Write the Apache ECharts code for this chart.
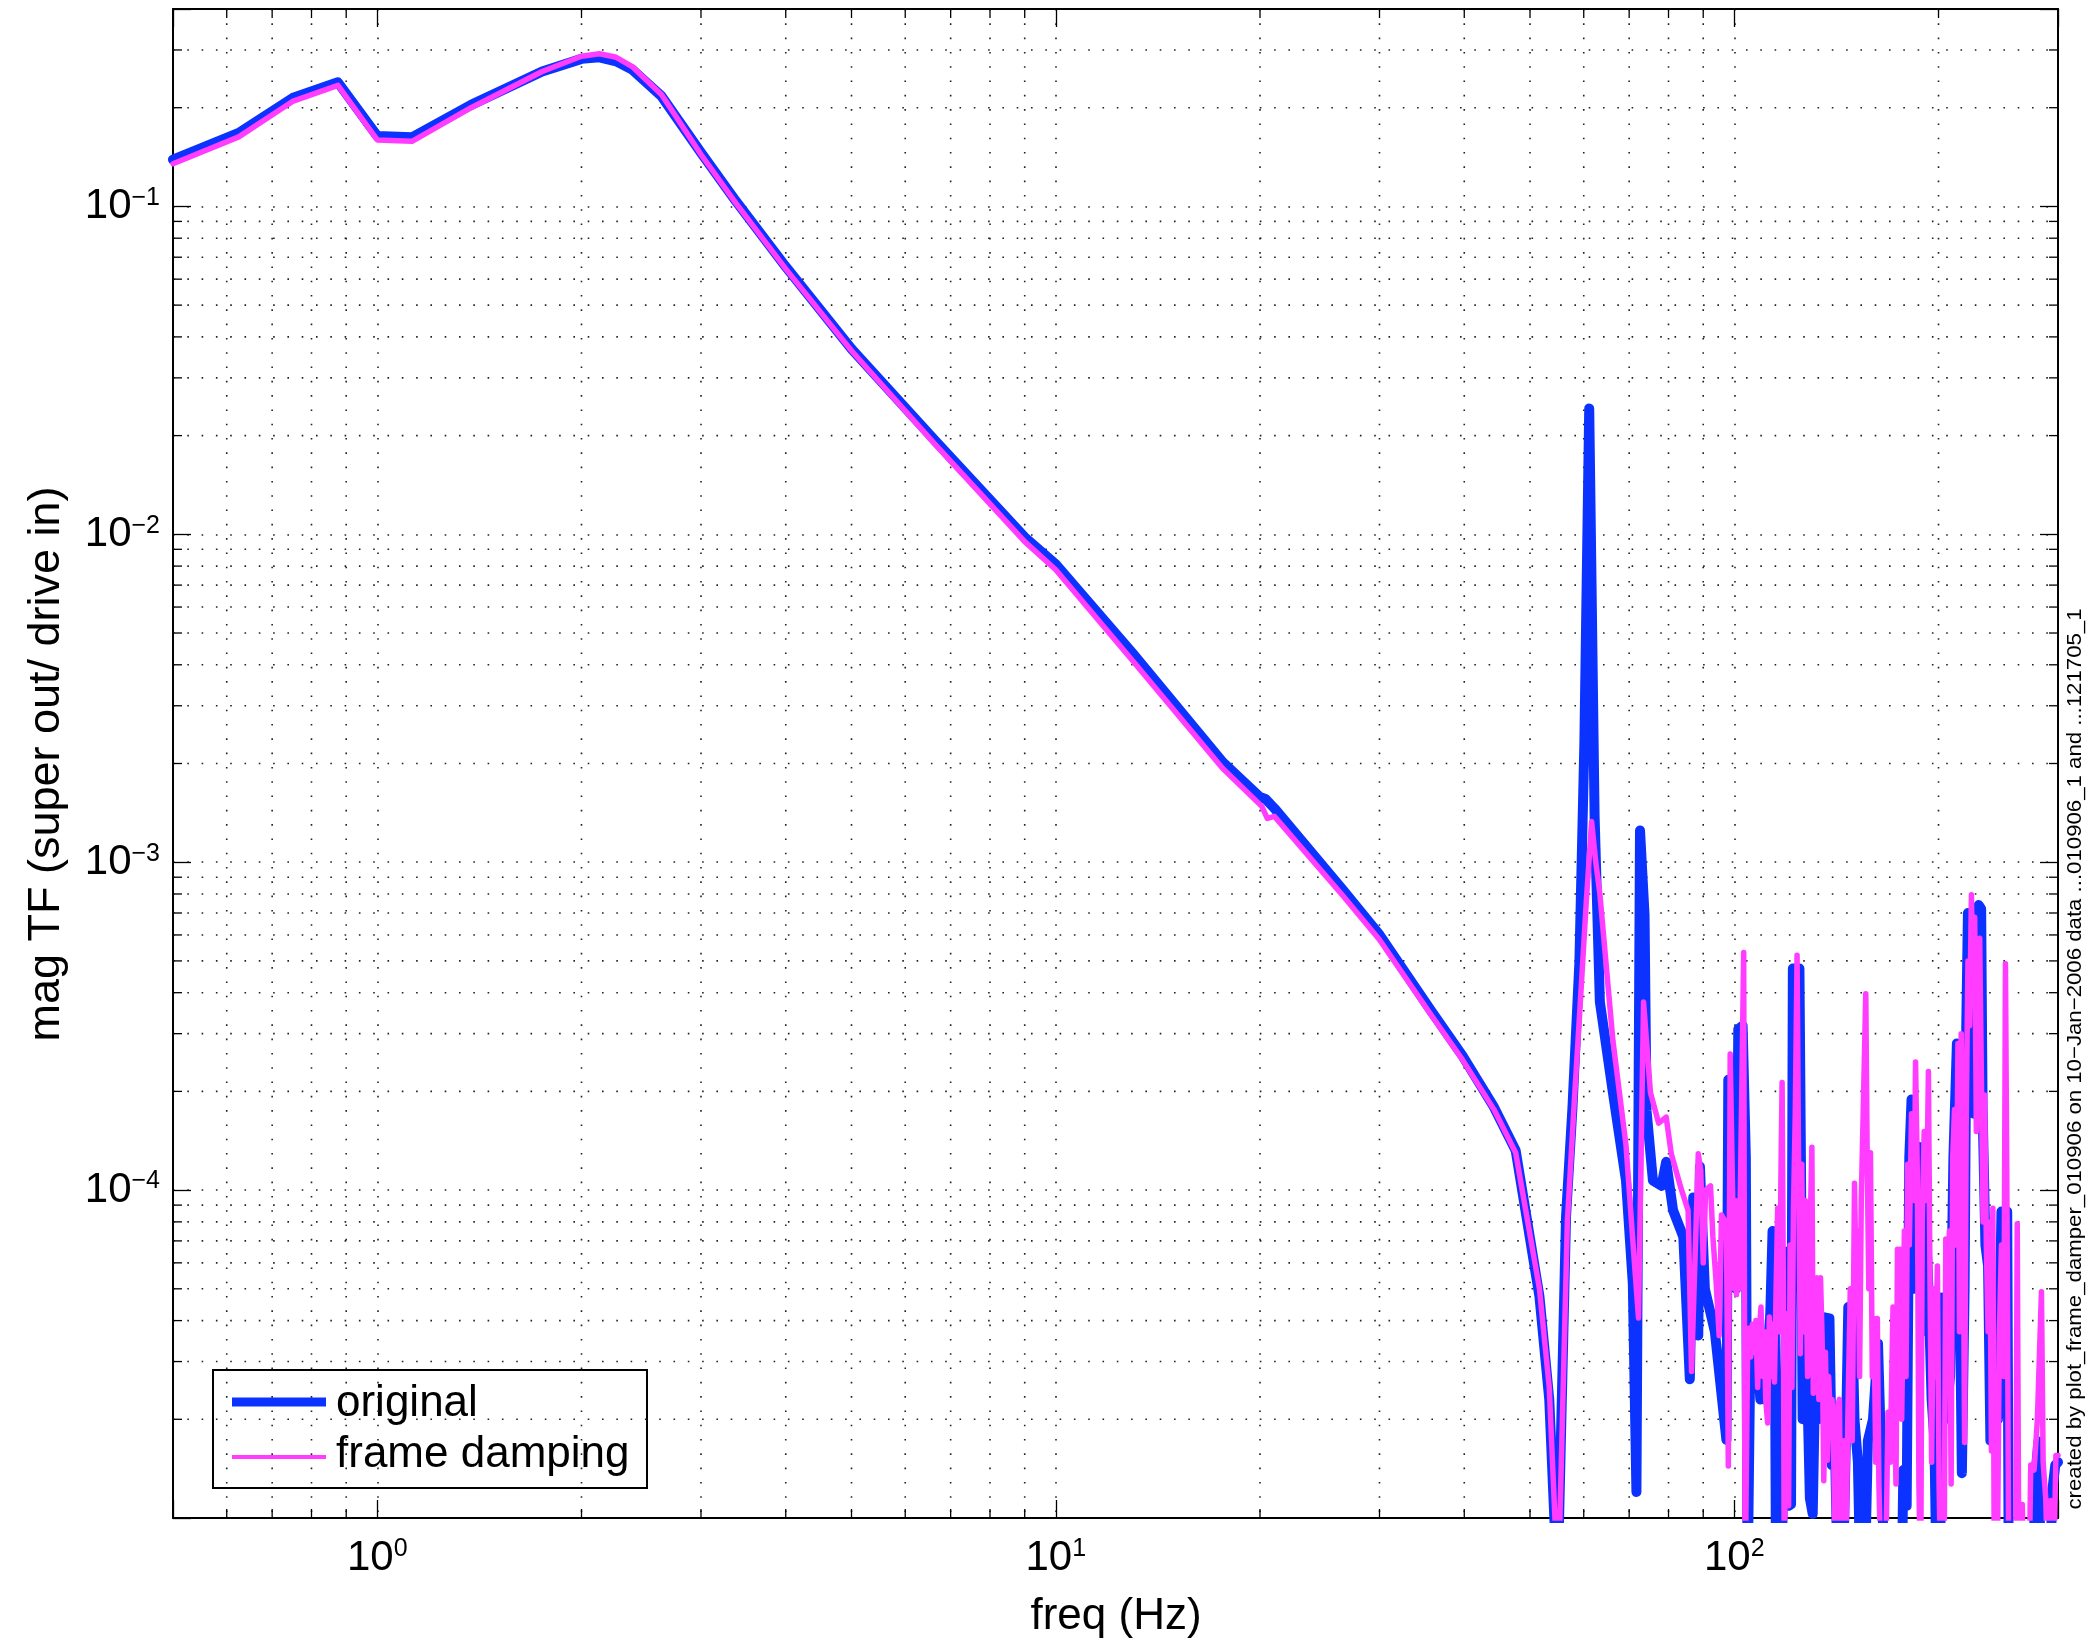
<!DOCTYPE html>
<html>
<head>
<meta charset="utf-8">
<script src="https://cdn.jsdelivr.net/npm/echarts@6.0.0/dist/echarts.min.js"></script>
<style>
html, body { margin: 0; padding: 0; background: #fff; }
#chart { width: 2088px; height: 1645px; }
</style>
</head>
<body>
<div id="chart"></div>
<script>
// transfer function magnitude: [freq Hz, mag]
var original = [
    [0.5, 0.139], [0.625, 0.1675], [0.75, 0.214], [0.875, 0.239], [1, 0.164], [1.125, 0.1624],
    [1.375, 0.204], [1.75, 0.258], [2, 0.2818], [2.125, 0.2848], [2.25, 0.277], [2.375, 0.2615],
    [2.625, 0.2167], [3, 0.146], [3.375, 0.104], [4, 0.0655], [5, 0.0368], [6.625, 0.0194],
    [9, 0.0098], [10, 0.0081], [13, 0.00432], [17.625, 0.00202], [20, 0.00158], [20.375, 0.00156],
    [21, 0.00146], [26.5, 8.23e-4], [30, 6.01e-4], [35.75, 3.52e-4], [39.75, 2.57e-4],
    [44.25, 1.79e-4], [47.625, 1.32e-4], [51.625, 4.74e-5], [53.375, 2.3e-5], [54.875, 6e-6],
    [56.5, 8.3e-5], [57.75, 1.79e-4], [59.125, 4.97e-4], [60.125, 2.3e-3], [61.125, 0.0242],
    [62.25, 1.38e-3], [63.375, 3.75e-4], [66.25, 1.98e-4], [69.25, 1.07e-4], [70.875, 5.18e-5],
    [71.75, 1.2e-5], [72.625, 1.25e-3], [73.75, 6.9e-4], [74.25, 1.75e-4], [75.875, 1.07e-4],
    [78.125, 1.03e-4], [79.375, 1.22e-4], [81.25, 8.67e-5], [84.125, 7.2e-5], [86, 2.65e-5],
    [87, 9.5e-5], [88.5, 3.6e-5], [89, 1.18e-4], [90.5, 5e-5], [93.625, 3.7e-5], [97.375, 1.73e-5],
    [98, 2.17e-4], [99.625, 6.9e-5], [100.625, 5.0e-5], [101.375, 3.1e-4], [102.875, 3.17e-4],
    [104, 1.26e-4], [104.625, 6e-6], [105.5, 2.7e-5], [106.375, 3.1e-5], [107.25, 2.5e-5],
    [108.25, 3.1e-5], [109.25, 2.3e-5], [110.125, 2.9e-5], [111, 2.3e-5], [112, 3.2e-5],
    [113, 4.2e-5], [113.875, 7.5e-5], [114.625, 6.8e-5], [115.25, 6e-6], [117.25, 6e-6],
    [118.5, 2.0e-5], [119.625, 6.5e-5], [120.25, 1.09e-5], [121.25, 1.1e-5], [122, 4.74e-4],
    [124.75, 4.74e-4], [125.375, 1.26e-4], [126.125, 2.0e-5], [127.125, 3.7e-5], [128.25, 2.3e-5],
    [129.25, 1.15e-5], [130.5, 1.03e-5], [131.625, 2.7e-5], [132.75, 2.0e-5], [134, 3.7e-5],
    [135.125, 4.1e-5], [138.125, 4.06e-5], [139.25, 1.45e-5], [140.5, 2.0e-5], [142.125, 6e-6],
    [144.5, 6e-6], [146.25, 2.0e-5], [147.25, 4.4e-5], [149.125, 4.3e-5], [150.375, 2.0e-5],
    [152.125, 1.48e-5], [153.5, 6e-6], [155.625, 6e-6], [157.375, 1.72e-5], [160.125, 2.0e-5],
    [162.875, 3.4e-5], [164.75, 1.48e-5], [166.625, 6e-6], [176.5, 6e-6], [177.5, 1.4e-5],
    [179.5, 1.09e-5], [181.125, 1.26e-4], [182.5, 1.89e-4], [184.25, 5.0e-5], [185.75, 1.36e-4],
    [187.75, 1.35e-4], [189.25, 3.7e-5], [191, 9.3e-5], [193.25, 5.0e-5], [195.375, 2.3e-5],
    [197.25, 1.72e-5], [198.75, 6e-6], [201.125, 6e-6], [202.25, 4.7e-5], [204.5, 2.0e-5],
    [208, 2.7e-5], [210.375, 1.26e-4], [212.875, 2.8e-4], [214.625, 6.8e-5], [216.5, 1.37e-5],
    [218.5, 5.0e-5], [219.75, 3.17e-4], [221, 7.0e-4], [222.75, 4.35e-4], [225.375, 1.71e-4],
    [227.375, 4.35e-4], [229.25, 7.4e-4], [231.125, 7.2e-4], [232.25, 1.8e-4], [234.5, 6.8e-5],
    [236.625, 5.87e-5], [238.5, 1.72e-5], [240.5, 3.17e-5], [242.625, 3.0e-5], [244.75, 2.0e-5],
    [247.625, 8.6e-5], [252.5, 8.6e-5], [253.875, 6e-6], [275, 6e-6], [278.25, 1.4e-5],
    [280.75, 1.71e-5], [283.25, 6e-6], [291.25, 6e-6], [294.5, 1.23e-5], [297.25, 1.45e-5],
    [300, 1.48e-5]
];

var frameDamping = [
    [0.5, 0.135], [0.625, 0.163], [0.75, 0.209], [0.875, 0.234], [1, 0.1595], [1.125, 0.158],
    [1.375, 0.2], [1.75, 0.258], [2, 0.287], [2.125, 0.292], [2.25, 0.285], [2.375, 0.267],
    [2.625, 0.219], [3, 0.144], [3.375, 0.1025], [4, 0.0645], [5, 0.0363], [6.625, 0.0189],
    [9, 0.0095], [10, 0.0078], [13, 0.0041], [17.625, 0.00193], [20.125, 0.00148], [20.5, 0.00136],
    [21, 0.00138], [26.5, 7.9e-4], [30, 5.8e-4], [35.75, 3.42e-4], [39.75, 2.5e-4], [44.25, 1.76e-4],
    [47.625, 1.3e-4], [51.625, 5e-5], [53.375, 2.5e-5], [55, 6e-6], [56.75, 8e-5], [58, 1.75e-4],
    [59.375, 3.9e-4], [60.5, 7.5e-4], [61.625, 1.33e-3], [62.5, 1.0e-3], [63.375, 8.0e-4],
    [66.25, 2.85e-4], [69.25, 1.37e-4], [70.875, 7.0e-5], [72.25, 4.07e-5], [73.5, 3.75e-4],
    [75.25, 1.98e-4], [77.375, 1.6e-4], [79.375, 1.67e-4], [80.75, 1.29e-4], [83.5, 1.01e-4],
    [85.5, 8.67e-5], [86.5, 2.8e-5], [88.5, 1.29e-4], [89.25, 1.15e-4], [90, 6.0e-5],
    [90.75, 1.0e-4], [92.25, 1.03e-4], [93, 7.2e-5], [94, 5.3e-5], [95, 3.6e-5], [95.75, 8.4e-5],
    [97.375, 7.9e-5], [98, 1.44e-5], [98.625, 2.6e-4], [100, 5.0e-5], [100.375, 9.3e-5],
    [100.75, 4.8e-5], [101.125, 8.0e-5], [101.625, 5.0e-5], [102.25, 1.26e-4], [103.25, 5.3e-4],
    [103.75, 6e-6], [104.625, 3.17e-5], [105.25, 3.8e-5], [105.75, 3.1e-5], [106.375, 3.9e-5],
    [107, 3.2e-5], [107.625, 4.0e-5], [108.25, 2.5e-5], [108.75, 3.6e-5], [109.5, 4.4e-5],
    [110.125, 2.7e-5], [110.75, 3.7e-5], [111.25, 2.3e-5], [112, 1.95e-5], [112.625, 4.1e-5],
    [113.25, 2.7e-5], [113.875, 3.9e-5], [114.625, 2.6e-5], [115.25, 5.0e-5], [115.875, 8.8e-5],
    [116.5, 3.7e-5], [117.25, 1.26e-4], [117.625, 2.13e-4], [118.125, 5.0e-5], [118.5, 6e-6],
    [119.25, 3.7e-5], [119.625, 4.2e-5], [120.25, 1.09e-5], [120.875, 6.8e-5], [121.625, 2.5e-5],
    [122.25, 8.8e-5], [123, 1.71e-4], [123.75, 5.2e-4], [124.375, 1.26e-4], [125.125, 3.17e-5],
    [125.75, 1.2e-4], [126.5, 3.7e-5], [127.25, 9.3e-5], [128.25, 2.7e-5], [129.25, 6.8e-5],
    [130.125, 1.35e-4], [130.75, 2.4e-5], [131.625, 5.0e-5], [132.5, 5.4e-5], [133.25, 2.3e-5],
    [134, 5.4e-5], [134.75, 3.5e-5], [135.5, 1.3e-5], [136.25, 3.2e-5], [137.125, 1.5e-5],
    [137.75, 2.7e-5], [138.625, 2.0e-5], [139.375, 2.3e-5], [140.25, 1.4e-5], [141, 6e-6],
    [142.125, 2.2e-5], [142.875, 2.3e-5], [143.75, 6e-6], [144.875, 1.72e-5], [145.875, 6e-6],
    [147, 2.0e-5], [148.25, 5.0e-5], [149.25, 1.72e-5], [150.375, 1.05e-4], [151.25, 5.0e-5],
    [152.125, 7.5e-5], [153, 2.7e-5], [153.875, 9.3e-5], [154.875, 1.71e-4], [156.25, 3.97e-4],
    [157, 1.26e-4], [157.875, 5.0e-5], [158.75, 1.3e-4], [159.75, 2.7e-5], [160.625, 4.06e-5],
    [161.625, 1.48e-5], [162.5, 4.06e-5], [163.375, 1.27e-5], [164.75, 6e-6], [167, 6e-6],
    [168.5, 2.1e-5], [169.75, 1.48e-5], [171.375, 4.4e-5], [172.375, 2.0e-5], [173.125, 1.27e-5],
    [174, 6.6e-5], [174.5, 2.7e-5], [175.5, 6.6e-5], [176.5, 2.0e-5], [178.125, 7.5e-5],
    [179.125, 2.7e-5], [180.125, 1.2e-4], [181.125, 6.8e-5], [182.5, 1.71e-4], [184.25, 9.3e-5],
    [185, 2.46e-4], [186.125, 1.1e-4], [187.125, 1.27e-5], [188.25, 6e-6], [189.25, 8.0e-5],
    [190.5, 1.51e-4], [192.125, 9.3e-5], [193.25, 2.3e-4], [194.25, 5.6e-5], [195.375, 1.48e-5],
    [196.625, 5.0e-5], [197.75, 2.7e-5], [199.25, 5.87e-5], [200.375, 1.27e-5], [201.625, 6e-6],
    [203.75, 6e-6], [205, 7.1e-5], [206.375, 3.0e-5], [207.5, 7.5e-5], [208.75, 1.27e-5],
    [209.875, 1.26e-4], [211.125, 1.76e-4], [212.375, 6.8e-5], [213.625, 2.8e-4], [214.75, 3.7e-5],
    [216, 3.0e-4], [217.25, 1.26e-4], [218.5, 1.7e-5], [219.75, 1.71e-4], [221, 5.0e-4],
    [222.25, 3.17e-4], [223.625, 7.96e-4], [224.75, 4.35e-4], [226.125, 6.8e-4], [227.375, 1.51e-4],
    [228.75, 4.35e-4], [230, 5.86e-4], [231.25, 2.33e-4], [232.625, 8.0e-5], [233.875, 1.95e-4],
    [235.25, 6.8e-5], [236.625, 3.7e-5], [238, 8.0e-5], [239.375, 1.6e-5], [240.5, 8.8e-5],
    [241.75, 6e-6], [244, 6e-6], [245.875, 3.7e-5], [247.625, 6.8e-5], [249.625, 2.7e-5],
    [251, 4.9e-4], [252.5, 6.8e-5], [253.875, 6e-6], [259.75, 6e-6], [261.25, 7.9e-5],
    [262.75, 6e-6], [265.75, 1.1e-5], [267.25, 6e-6], [271.875, 6e-6], [273.5, 1.45e-5],
    [276.625, 1.4e-5], [279.75, 2.0e-5], [283.625, 4.9e-5], [285.25, 1.48e-5], [287.75, 1.15e-5],
    [290.125, 6e-6], [292.75, 1.13e-5], [295.25, 6e-6], [297.875, 1.55e-5], [300, 1.55e-5]
];

// axes
var X_MIN = 0.5, X_MAX = 300;
var Y_MIN = 1e-5, Y_MAX = 0.4;
var xDecades = [0.1, 1, 10, 100];
var yDecades = [1e-5, 1e-4, 1e-3, 1e-2, 1e-1];
var minorMantissa = [2, 3, 4, 5, 6, 7, 8, 9];

var FONT = '"Liberation Sans", Arial, Helvetica, sans-serif';
var BLUE = '#0b32ff';
var PINK = '#ff3cff';
var DOTS = [1.6, 12.7];

function minorValues(decades, lo, hi) {
    var out = [];
    decades.forEach(function (d) {
        minorMantissa.forEach(function (m) {
            var v = d * m;
            if (v > lo * 1.0001 && v < hi * 0.9999) out.push(v);
        });
    });
    return out;
}
var xMinor = minorValues(xDecades, X_MIN, X_MAX);
var yMinor = minorValues(yDecades, Y_MIN, Y_MAX);

// 10^n labels, only on decades inside the axis
function decadeLabel(lo, hi) {
    return function (v) {
        if (v <= lo * 1.001 || v >= hi * 0.999) return '';
        var e = Math.log10(v);
        var r = Math.round(e);
        if (Math.abs(e - r) > 1e-6) return '';
        var s = r < 0 ? '\u2212' + (-r) : '' + r;
        return '{b|10}{s|' + s + '}';
    };
}
var richLabel = {
    b: { fontFamily: FONT, fontSize: 42, lineHeight: 42, padding: [12, 0, 12, 0], color: '#000', verticalAlign: 'middle' },
    s: { fontFamily: FONT, fontSize: 25, lineHeight: 25, color: '#000', verticalAlign: 'top' }
};

var tickStyle = { show: true, inside: true, length: 18, lineStyle: { color: '#000', width: 1.3 } };
var lineAxis = { show: true, onZero: false, lineStyle: { color: '#000', width: 2 } };
var gridDots = { show: true, lineStyle: { color: '#222', width: 1.6, type: DOTS } };

// matlab-style minor grid + minor ticks on all four sides
function renderMinorX(params, api) {
    var cs = params.coordSys;
    var x = api.coord([api.value(0), 1e-3])[0];
    var b = cs.y + cs.height;
    return {
        type: 'group',
        children: [
            { type: 'line', shape: { x1: x, y1: cs.y, x2: x, y2: b }, style: { stroke: '#222', lineWidth: 1.6, lineDash: DOTS } },
            { type: 'line', shape: { x1: x, y1: b, x2: x, y2: b - 9 }, style: { stroke: '#000', lineWidth: 1.3 } },
            { type: 'line', shape: { x1: x, y1: cs.y, x2: x, y2: cs.y + 9 }, style: { stroke: '#000', lineWidth: 1.3 } }
        ]
    };
}
function renderMinorY(params, api) {
    var cs = params.coordSys;
    var y = api.coord([1, api.value(1)])[1];
    var r = cs.x + cs.width;
    return {
        type: 'group',
        children: [
            { type: 'line', shape: { x1: cs.x, y1: y, x2: r, y2: y }, style: { stroke: '#222', lineWidth: 1.6, lineDash: DOTS } },
            { type: 'line', shape: { x1: cs.x, y1: y, x2: cs.x + 9, y2: y }, style: { stroke: '#000', lineWidth: 1.3 } },
            { type: 'line', shape: { x1: r, y1: y, x2: r - 9, y2: y }, style: { stroke: '#000', lineWidth: 1.3 } }
        ]
    };
}

var myChart = echarts.init(document.getElementById('chart'), null, { renderer: 'canvas' });

var option = {
    animation: false,
    backgroundColor: '#fff',
    grid: { left: 173, right: 30, top: 9, bottom: 127, containLabel: false },
    xAxis: [{
        type: 'log', logBase: 10, min: X_MIN, max: X_MAX, position: 'bottom',
        axisLine: lineAxis, axisTick: tickStyle, splitLine: gridDots,
        axisLabel: { formatter: decadeLabel(X_MIN, X_MAX), rich: richLabel, margin: 19 }
    }, {
        type: 'log', logBase: 10, min: X_MIN, max: X_MAX, position: 'top',
        axisLine: lineAxis, axisTick: tickStyle, splitLine: { show: false }, axisLabel: { show: false }
    }],
    yAxis: [{
        type: 'log', logBase: 10, min: Y_MIN, max: Y_MAX, position: 'left',
        axisLine: lineAxis, axisTick: tickStyle, splitLine: gridDots,
        axisLabel: { formatter: decadeLabel(Y_MIN, Y_MAX), rich: richLabel, margin: 13 }
    }, {
        type: 'log', logBase: 10, min: Y_MIN, max: Y_MAX, position: 'right',
        axisLine: lineAxis, axisTick: tickStyle, splitLine: { show: false }, axisLabel: { show: false }
    }],
    series: [{
        type: 'custom', name: 'minorX', silent: true, clip: false, z: 1,
        encode: { x: 0, y: 1 },
        data: xMinor.map(function (v) { return [v, 1e-3]; }),
        renderItem: renderMinorX
    }, {
        type: 'custom', name: 'minorY', silent: true, clip: false, z: 1,
        encode: { x: 0, y: 1 },
        data: yMinor.map(function (v) { return [1, v]; }),
        renderItem: renderMinorY
    }, {
        type: 'line', name: 'original', data: original,
        symbol: 'none', showSymbol: false, clip: true, z: 3,
        lineStyle: { color: BLUE, width: 10, cap: 'round', join: 'round' }
    }, {
        type: 'line', name: 'frame damping', data: frameDamping,
        symbol: 'none', showSymbol: false, clip: true, z: 4,
        lineStyle: { color: PINK, width: 5.5, cap: 'round', join: 'round' }
    }],
    graphic: [{
        type: 'text', x: 47, y: 764, rotation: Math.PI / 2,
        style: { text: 'mag TF (super out/ drive in)', font: '45px ' + FONT, fill: '#000', align: 'center', verticalAlign: 'middle' }
    }, {
        type: 'text', x: 1116, y: 1617,
        style: { text: 'freq (Hz)', font: '44px ' + FONT, fill: '#000', align: 'center', verticalAlign: 'middle' }
    }, {
        type: 'text', x: 2075, y: 1059, rotation: Math.PI / 2, scaleX: 1.11,
        style: { text: 'created by plot_frame_damper_010906 on 10\u2212Jan\u22122006 data ...010906_1 and ...121705_1', font: '20px ' + FONT, fill: '#000', align: 'center', verticalAlign: 'middle' }
    }, {
        // legend box
        type: 'group', z: 100,
        children: [
            { type: 'rect', shape: { x: 213, y: 1370, width: 434, height: 118 }, style: { fill: '#fff', stroke: '#000', lineWidth: 2 } },
            { type: 'line', shape: { x1: 232, y1: 1402, x2: 326, y2: 1402 }, style: { stroke: BLUE, lineWidth: 9 } },
            { type: 'line', shape: { x1: 232, y1: 1457, x2: 326, y2: 1457 }, style: { stroke: PINK, lineWidth: 4 } },
            { type: 'text', x: 336, y: 1404, style: { text: 'original', font: '44px ' + FONT, fill: '#000', align: 'left', verticalAlign: 'middle' } },
            { type: 'text', x: 336, y: 1455, style: { text: 'frame damping', font: '44px ' + FONT, fill: '#000', align: 'left', verticalAlign: 'middle' } }
        ]
    }]
};

myChart.setOption(option);
</script>
</body>
</html>
